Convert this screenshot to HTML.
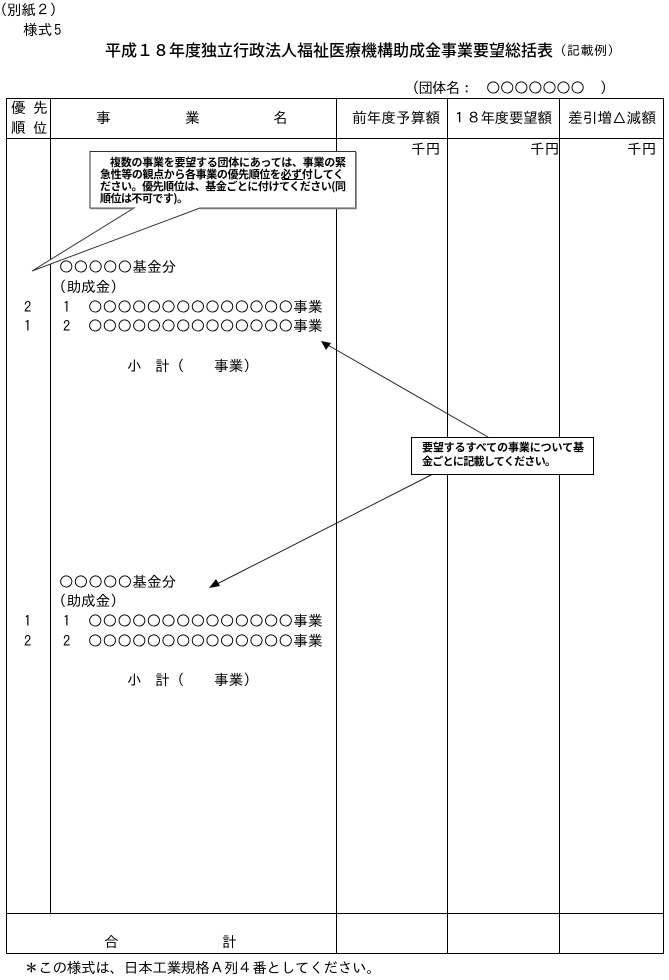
<!DOCTYPE html>
<html lang="ja"><head><meta charset="utf-8">
<style>
html,body{margin:0;padding:0;background:#fff;width:669px;height:980px;overflow:hidden}
svg{display:block}
text{font-family:"IPAGothic","Noto Sans CJK JP",sans-serif;font-size:14.67px;fill:#000}
.t{font-size:16px;font-family:"Noto Sans CJK JP","IPAGothic",sans-serif;font-weight:500}
.b{font-size:11px;font-family:"Noto Sans CJK JP","IPAGothic",sans-serif;font-weight:700}
</style></head><body>
<svg width="669" height="980" viewBox="0 0 669 980" xmlns="http://www.w3.org/2000/svg">
<g stroke="#000" stroke-width="1" fill="none" shape-rendering="crispEdges">
<rect x="6.5" y="98.5" width="657" height="855"/>
<path d="M6 138.5H664M6 913.5H664M50.5 98V913M336.5 98V953M447.5 98V953M559.5 98V953"/>
</g>
<text x="0" y="15" textLength="57">(別紙２)</text>
<text x="23" y="35">様式</text><text x="54" y="35">5</text>
<text class="t" x="105" y="56" textLength="448">平成１８年度独立行政法人福祉医療機構助成金事業要望総括表</text>
<text x="560" y="55" textLength="54" style="font-size:13px">(記載例)</text>
<text x="412" y="93" textLength="62">(団体名：</text>
<text x="486" y="93" textLength="99">○○○○○○○</text>
<text x="600" y="93">)</text>
<text x="11" y="113">優</text><text x="33" y="113">先</text>
<text x="11" y="133">順</text><text x="33" y="133">位</text>
<text x="96" y="123">事</text><text x="185" y="123">業</text><text x="273" y="123">名</text>
<text x="352" y="123" textLength="88">前年度予算額</text>
<text x="452" y="123" textLength="100">１８年度要望額</text>
<text x="568" y="123" textLength="88">差引増△減額</text>
<text x="411" y="154">千円</text><text x="530" y="154">千円</text><text x="627" y="154">千円</text>

<text x="59" y="272">○○○○○基金分</text>
<text x="59" y="292">(助成金)</text>
<text x="24" y="312">2</text><text x="63" y="312">1</text>
<text x="88" y="312">○○○○○○○○○○○○○○事業</text>
<text x="24" y="331">1</text><text x="63" y="331">2</text>
<text x="88" y="331">○○○○○○○○○○○○○○事業</text>
<text x="127" y="371">小</text><text x="155" y="371">計</text><text x="177" y="371">(</text>
<text x="214" y="371">事業)</text>

<text x="59" y="587">○○○○○基金分</text>
<text x="59" y="606">(助成金)</text>
<text x="24" y="626">1</text><text x="63" y="626">1</text>
<text x="88" y="626">○○○○○○○○○○○○○○事業</text>
<text x="24" y="646">2</text><text x="63" y="646">2</text>
<text x="88" y="646">○○○○○○○○○○○○○○事業</text>
<text x="127" y="685">小</text><text x="155" y="685">計</text><text x="177" y="685">(</text>
<text x="214" y="685">事業)</text>

<text x="104" y="947">合</text><text x="222" y="947">計</text>
<text x="24" y="973" textLength="357">＊この様式は、日本工業規格Ａ列４番としてください。</text>

<path d="M90 151.5H355.5V208H200L32 271L134 208H90Z" fill="#fff" stroke="#333" stroke-width="1"/>
<path d="M90.5 208.5H134M200 208.5H356V152" fill="none" stroke="#777" stroke-width="1.5"/>
<text class="b" x="110" y="166" textLength="236">複数の事業を要望する団体にあっては、事業の緊</text>
<text class="b" x="100" y="178" textLength="244">急性等の観点から各事業の優先順位を必ず付してく</text>
<text class="b" x="100" y="190" textLength="246">ださい。優先順位は、基金ごとに付けてください(同</text>
<text class="b" x="100" y="202" textLength="88">順位は不可です)。</text>
<path d="M282 179.5H303" stroke="#000" stroke-width="1"/>

<path d="M488 437L326 344M433 474L213 586" stroke="#222" stroke-width="1" fill="none"/>
<path d="M321 341L331 343L326 350Z" fill="#000"/>
<path d="M209 588L216 579L220 586Z" fill="#000"/>
<rect x="411.5" y="437.5" width="182" height="37" fill="#fff" stroke="#000" stroke-width="1" shape-rendering="crispEdges"/>
<text class="b" x="422" y="451" textLength="162">要望するすべての事業について基</text>
<text class="b" x="422" y="465" textLength="134">金ごとに記載してください。</text>
</svg>
</body></html>
